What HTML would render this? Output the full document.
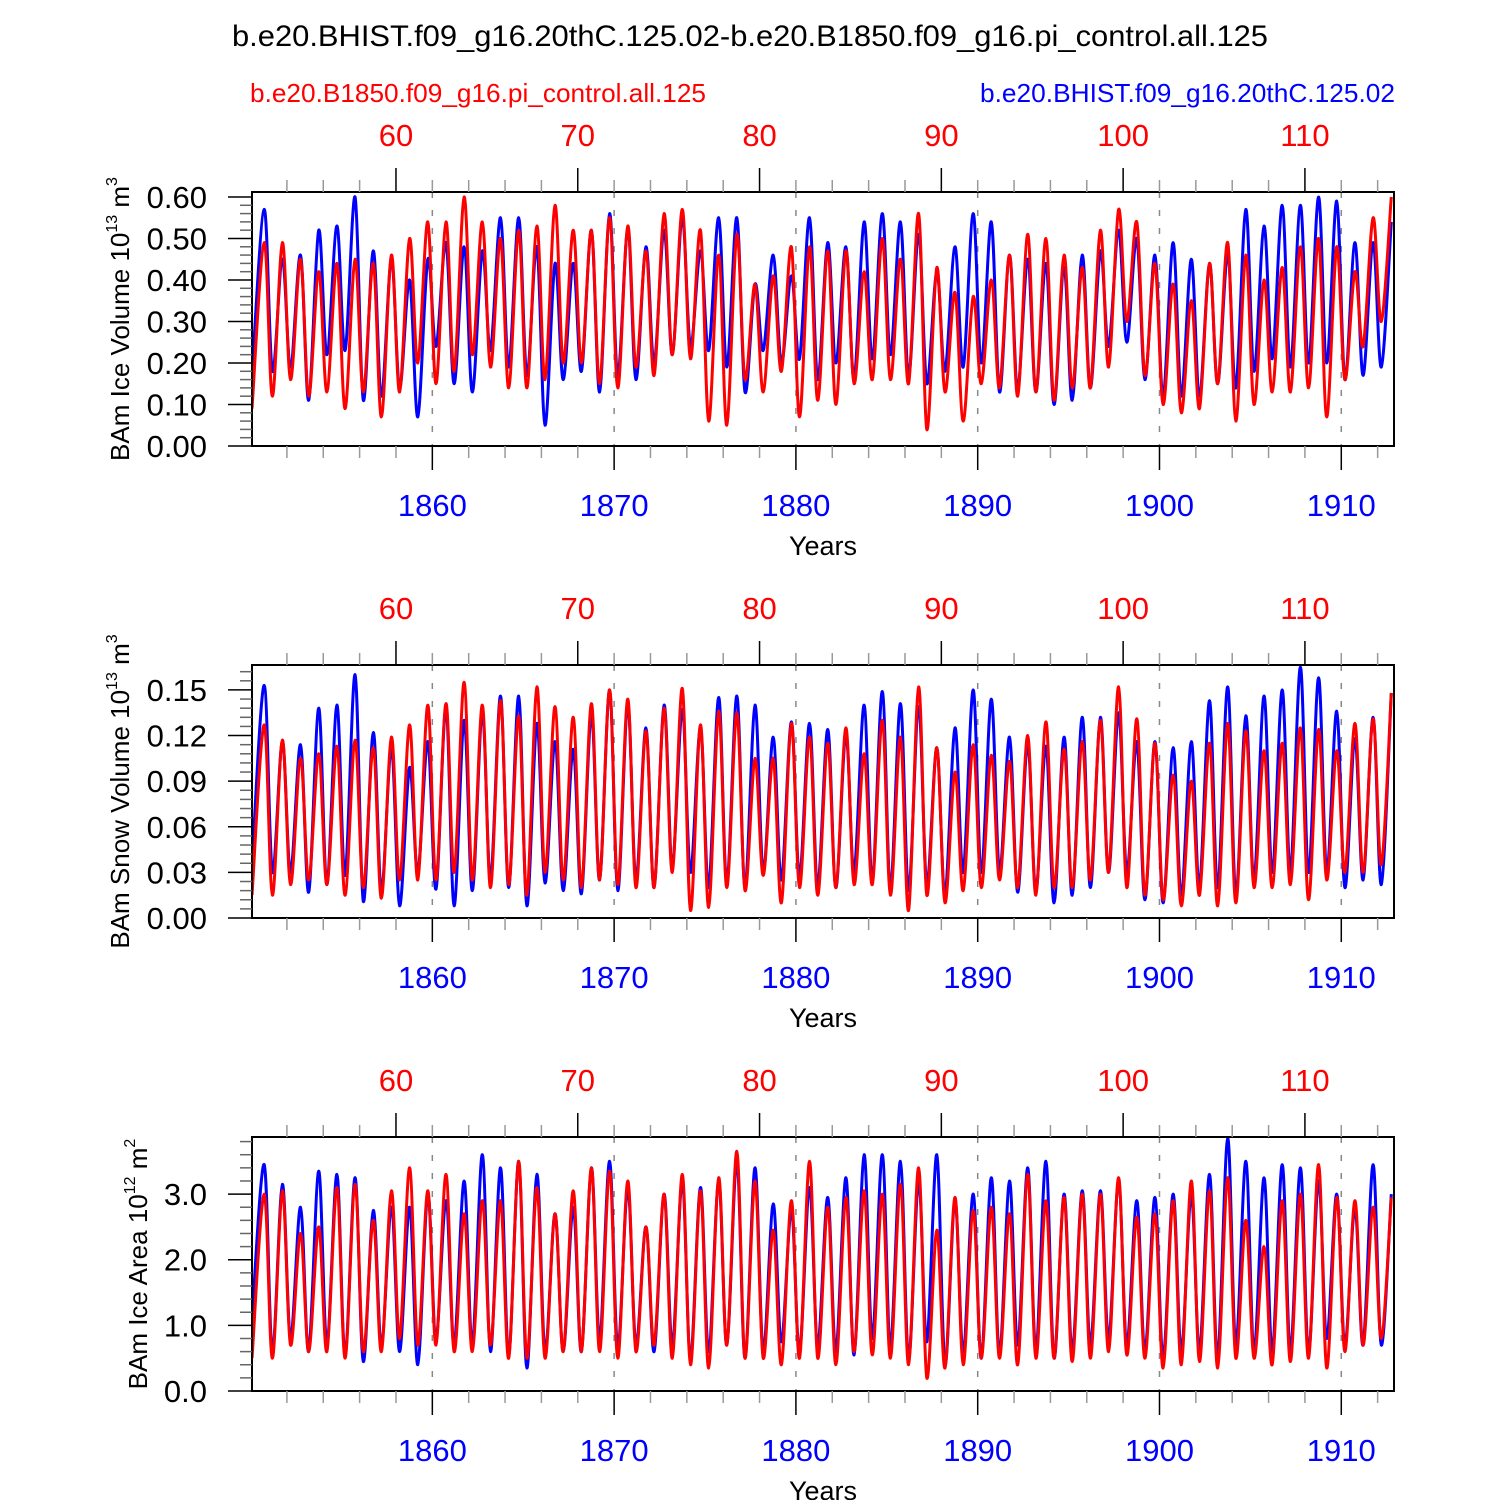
<!DOCTYPE html>
<html><head><meta charset="utf-8">
<style>
html,body{margin:0;padding:0;background:#fff;}
svg{display:block;font-family:"Liberation Sans",sans-serif;}
</style></head>
<body>
<svg id="chart" width="1500" height="1500" viewBox="0 0 1500 1500" xmlns="http://www.w3.org/2000/svg">
<rect width="1500" height="1500" fill="#fff"/>
<text x="750" y="46" font-size="30" text-anchor="middle" textLength="1036" lengthAdjust="spacingAndGlyphs">b.e20.BHIST.f09_g16.20thC.125.02-b.e20.B1850.f09_g16.pi_control.all.125</text>
<text x="250" y="102" font-size="26" fill="#ff0000" textLength="456" lengthAdjust="spacingAndGlyphs">b.e20.B1850.f09_g16.pi_control.all.125</text>
<text x="980" y="102" font-size="26" fill="#0000ff" textLength="415" lengthAdjust="spacingAndGlyphs">b.e20.BHIST.f09_g16.20thC.125.02</text>
</svg>
<script>
// Panel 1: ice volume (1e13 m^3)
const iceVolBluePeaks=[0.57,0.45,0.46,0.52,0.53,0.60,0.47,0.45,0.40,0.45,0.49,0.48,0.47,0.55,0.55,0.48,0.44,0.44,0.52,0.56,0.52,0.48,0.52,0.55,0.47,0.55,0.55,0.39,0.46,0.41,0.55,0.49,0.48,0.54,0.56,0.54,0.51,0.42,0.48,0.56,0.54,0.46,0.45,0.44,0.43,0.46,0.47,0.52,0.50,0.46,0.49,0.45,0.44,0.46,0.57,0.53,0.58,0.58,0.60,0.59,0.49,0.49,0.54];
const iceVolBlueTroughs=[0.18,0.19,0.11,0.22,0.23,0.11,0.12,0.14,0.07,0.24,0.15,0.13,0.23,0.19,0.17,0.05,0.16,0.18,0.13,0.17,0.16,0.20,0.22,0.24,0.23,0.19,0.13,0.23,0.20,0.21,0.16,0.20,0.16,0.21,0.22,0.17,0.15,0.18,0.19,0.20,0.13,0.14,0.13,0.10,0.11,0.14,0.24,0.25,0.16,0.12,0.12,0.12,0.15,0.14,0.18,0.21,0.19,0.20,0.20,0.16,0.17,0.19];
const iceVolRedPeaks=[0.49,0.49,0.45,0.42,0.44,0.45,0.44,0.46,0.50,0.54,0.54,0.60,0.54,0.50,0.52,0.53,0.58,0.52,0.52,0.55,0.53,0.47,0.56,0.57,0.52,0.46,0.51,0.39,0.41,0.48,0.48,0.47,0.47,0.42,0.50,0.45,0.56,0.43,0.37,0.36,0.40,0.46,0.51,0.50,0.46,0.43,0.52,0.57,0.54,0.44,0.39,0.35,0.44,0.49,0.46,0.40,0.43,0.48,0.50,0.48,0.42,0.55,0.60];
const iceVolRedTroughs=[0.12,0.16,0.12,0.13,0.09,0.13,0.07,0.13,0.20,0.15,0.18,0.22,0.19,0.14,0.14,0.16,0.20,0.20,0.15,0.14,0.19,0.17,0.22,0.21,0.06,0.05,0.16,0.13,0.18,0.07,0.11,0.10,0.15,0.16,0.16,0.15,0.04,0.13,0.06,0.15,0.14,0.12,0.13,0.11,0.14,0.14,0.19,0.30,0.17,0.10,0.08,0.09,0.15,0.06,0.10,0.13,0.13,0.14,0.07,0.16,0.24,0.30];
const iceVolStart=[0.17,0.09];
const iceVolTicks=["0.00","0.10","0.20","0.30","0.40","0.50","0.60"];
// Panel 2: snow volume
const snowBluePeaks=[0.153,0.116,0.114,0.138,0.140,0.160,0.122,0.112,0.099,0.116,0.138,0.130,0.135,0.146,0.146,0.128,0.116,0.111,0.134,0.150,0.140,0.125,0.140,0.137,0.125,0.145,0.146,0.140,0.119,0.129,0.128,0.124,0.121,0.140,0.149,0.141,0.139,0.112,0.125,0.150,0.144,0.119,0.115,0.113,0.119,0.132,0.132,0.135,0.116,0.116,0.112,0.116,0.143,0.152,0.133,0.146,0.150,0.165,0.158,0.136,0.118,0.132,0.148];
const snowBlueTroughs=[0.03,0.03,0.017,0.022,0.028,0.011,0.018,0.008,0.030,0.019,0.008,0.018,0.025,0.020,0.008,0.023,0.018,0.016,0.025,0.018,0.025,0.020,0.035,0.030,0.020,0.023,0.020,0.030,0.025,0.027,0.022,0.020,0.030,0.025,0.020,0.018,0.022,0.015,0.030,0.030,0.030,0.017,0.018,0.010,0.015,0.020,0.030,0.030,0.012,0.010,0.015,0.020,0.020,0.015,0.025,0.030,0.030,0.030,0.030,0.020,0.025,0.022];
const snowRedPeaks=[0.127,0.117,0.105,0.108,0.113,0.117,0.112,0.119,0.127,0.140,0.141,0.155,0.140,0.143,0.133,0.152,0.139,0.132,0.141,0.150,0.144,0.123,0.138,0.151,0.127,0.136,0.135,0.105,0.105,0.128,0.119,0.115,0.125,0.108,0.130,0.119,0.152,0.112,0.096,0.114,0.107,0.103,0.120,0.129,0.111,0.116,0.130,0.152,0.131,0.115,0.094,0.090,0.115,0.128,0.123,0.110,0.115,0.125,0.124,0.110,0.128,0.131,0.148];
const snowRedTroughs=[0.015,0.022,0.025,0.022,0.015,0.020,0.013,0.025,0.025,0.025,0.030,0.025,0.020,0.022,0.015,0.030,0.025,0.020,0.025,0.022,0.020,0.020,0.030,0.005,0.007,0.020,0.018,0.028,0.010,0.020,0.015,0.020,0.022,0.022,0.015,0.005,0.015,0.010,0.018,0.020,0.025,0.020,0.015,0.020,0.020,0.025,0.030,0.020,0.015,0.012,0.008,0.015,0.008,0.010,0.020,0.020,0.022,0.012,0.025,0.030,0.030,0.035];
const snowStart=[0.035,0.015];
const snowTicks=["0.00","0.03","0.06","0.09","0.12","0.15"];
// Panel 3: ice area (1e12 m^2)
const areaBluePeaks=[3.45,3.15,2.8,3.35,3.3,3.25,2.75,2.8,2.8,3.0,2.9,3.2,3.6,3.4,3.5,3.3,2.7,2.8,3.4,3.5,3.1,2.5,3.0,3.2,3.1,3.2,3.5,3.4,2.85,2.75,3.1,2.95,3.25,3.6,3.6,3.5,3.2,3.6,2.9,3.0,3.25,3.2,3.4,3.5,3.0,3.05,3.05,3.2,2.9,2.95,3.0,3.0,3.3,3.85,3.5,3.25,3.45,3.4,3.2,3.0,2.8,3.45,3.0];
const areaBlueTroughs=[0.6,0.8,0.6,0.7,0.55,0.45,0.7,0.6,0.4,0.8,0.7,0.7,0.6,0.55,0.35,0.6,0.6,0.6,0.8,0.65,0.7,0.6,0.7,0.5,0.6,0.7,0.5,0.6,0.75,0.6,0.7,0.6,0.55,0.8,0.7,0.5,0.75,0.4,0.6,0.5,0.55,0.7,0.65,0.5,0.6,0.7,0.8,0.7,0.6,0.5,0.6,0.6,0.5,0.7,0.6,0.6,0.6,0.6,0.8,0.7,0.7,0.7];
const areaRedPeaks=[3.0,3.05,2.4,2.5,3.1,3.15,2.6,3.05,3.4,3.05,3.3,2.7,2.9,2.9,3.5,3.1,2.7,3.05,3.4,3.35,3.2,2.5,3.0,3.3,3.05,3.25,3.65,3.2,2.45,2.9,3.5,2.8,2.95,3.05,3.0,3.15,3.4,2.45,2.95,2.75,2.8,2.7,3.3,2.9,2.95,3.0,3.0,3.25,2.65,2.7,2.9,3.2,3.05,3.25,2.6,2.2,2.9,3.0,3.45,2.95,2.9,2.8,2.95];
const areaRedTroughs=[0.5,0.7,0.6,0.6,0.5,0.6,0.6,0.8,0.7,0.7,0.6,0.6,0.7,0.5,0.5,0.5,0.6,0.6,0.6,0.5,0.6,0.7,0.5,0.4,0.35,0.7,0.5,0.5,0.4,0.5,0.5,0.4,0.6,0.55,0.5,0.4,0.2,0.35,0.4,0.5,0.5,0.4,0.5,0.5,0.45,0.5,0.6,0.55,0.5,0.35,0.4,0.45,0.35,0.5,0.5,0.4,0.45,0.5,0.35,0.6,0.7,0.8];
const areaStart=[1.1,0.5];
const areaTicks=["0.0","1.0","2.0","3.0"];
const bottomYearLabels=[1860,1870,1880,1890,1900,1910];
const topYearLabels=[60,70,80,90,100,110];
const TOP_OFFSET=1798;

const NS="http://www.w3.org/2000/svg";
const svg=document.getElementById('chart');
const X0=252,X1=1394,T0=1850.08,T1=1912.9;
function xs(t){return X0+(t-T0)/(T1-T0)*(X1-X0);}
function mk(tag,attrs,parent){const e=document.createElementNS(NS,tag);for(const k in attrs)e.setAttribute(k,attrs[k]);(parent||svg).appendChild(e);return e;}

function buildPts(start,peaks,troughs,ys){
  const pts=[[xs(T0),ys(start)]];
  for(let i=0;i<peaks.length;i++){
    pts.push([xs(1850+i+0.75),ys(peaks[i])]);
    if(i<troughs.length) pts.push([xs(1851+i+0.2),ys(troughs[i])]);
  }
  return pts;
}
function smoothPath(p){
  let d="M"+p[0][0].toFixed(1)+","+p[0][1].toFixed(1);
  for(let i=0;i<p.length-1;i++){
    const p0=p[i-1]||p[i],p1=p[i],p2=p[i+1],p3=p[i+2]||p2;
    const c1x=p1[0]+(p2[0]-p0[0])/6,c1y=p1[1]+(p2[1]-p0[1])/6;
    const c2x=p2[0]-(p3[0]-p1[0])/6,c2y=p2[1]-(p3[1]-p1[1])/6;
    d+="C"+c1x.toFixed(1)+","+c1y.toFixed(1)+" "+c2x.toFixed(1)+","+c2y.toFixed(1)+" "+p2[0].toFixed(1)+","+p2[1].toFixed(1);
  }
  return d;
}

function panel(cfg){
  const {id,top,bot,ymax,ticks,step,minor,ylab,sup,unit,usup,ylx,blue,red,start}=cfg;
  const ys=v=>bot-(v/ymax)*(bot-top);
  const g=mk('g',{});
  
  
  const cp=mk('clipPath',{id:id+'-clip'},g);
  mk('rect',{x:X0,y:top,width:X1-X0,height:bot-top},cp);
  bottomYearLabels.forEach(y=>{
    const l=mk('line',{x1:xs(y),x2:xs(y),y1:top,y2:bot,stroke:'#888','stroke-width':1.5,'stroke-dasharray':'6,12'},g);
    
    
  });
  const bp=mk('path',{d:smoothPath(buildPts(start[0],blue[0],blue[1],ys)),fill:'none',stroke:'#0000ff','stroke-width':3,'clip-path':'url(#'+id+'-clip)'},g);
  const rp=mk('path',{d:smoothPath(buildPts(start[1],red[0],red[1],ys)),fill:'none',stroke:'#ff0000','stroke-width':3,'clip-path':'url(#'+id+'-clip)'},g);
  
  
  
  
  const fr=mk('rect',{x:X0,y:top,width:X1-X0,height:bot-top,fill:'none',stroke:'#000','stroke-width':2},g);
  
  
  for(let v=0;v<=ymax+1e-9;v+=minor){
    const y=ys(v);const isMaj=Math.abs(v/step-Math.round(v/step))<1e-6;
    mk('line',{x1:isMaj?228:240,x2:X0,y1:y,y2:y,stroke:isMaj?'#000':'#666','stroke-width':1.5},g);
  }
  ticks.forEach((t,i)=>{
    const tx=mk('text',{x:207,y:ys(i*step)+11,'font-size':31,'text-anchor':'end'},g);
    tx.textContent=t;
    
    
  });
  for(let yr=1852;yr<=1912;yr+=2){
    const maj=yr%10===0;
    mk('line',{x1:xs(yr),x2:xs(yr),y1:bot,y2:bot+(maj?24:12),stroke:maj?'#000':'#999','stroke-width':1.5},g);
  }
  bottomYearLabels.forEach(yr=>{
    const tx=mk('text',{x:xs(yr),y:bot+70,'font-size':31,'text-anchor':'middle',fill:'#0000ff'},g);
    tx.textContent=yr;
    
    
  });
  for(let yr=52;yr<=114;yr+=2){
    const maj=yr%10===0;const x=xs(yr+TOP_OFFSET);
    if(x<X0||x>X1)continue;
    mk('line',{x1:x,x2:x,y1:top,y2:top-(maj?24:12),stroke:maj?'#000':'#999','stroke-width':1.5},g);
  }
  topYearLabels.forEach(yr=>{
    const tx=mk('text',{x:xs(yr+TOP_OFFSET),y:top-46,'font-size':31,'text-anchor':'middle',fill:'#ff0000'},g);
    tx.textContent=yr;
    
    
  });
  const xl=mk('text',{x:823,y:bot+109,'font-size':27,'text-anchor':'middle'},g);
  xl.textContent='Years';
  
  
  const cy=(top+bot)/2;
  const yl=mk('text',{x:ylx,y:cy,'font-size':26,'text-anchor':'middle',transform:'rotate(-90 '+ylx+' '+cy+')'},g);
  
  
  yl.innerHTML=ylab+' 10<tspan font-size="16" dy="-12">'+sup+'</tspan><tspan dy="12"> '+unit+'</tspan><tspan font-size="16" dy="-12">'+usup+'</tspan>';
}

panel({id:'ice-volume',top:192,bot:446,ymax:0.612,ticks:iceVolTicks,step:0.1,minor:0.02,ylab:'BAm Ice Volume',sup:'13',unit:'m',usup:'3',ylx:129,
  blue:[iceVolBluePeaks,iceVolBlueTroughs],red:[iceVolRedPeaks,iceVolRedTroughs],start:iceVolStart});
panel({id:'snow-volume',top:665,bot:918,ymax:0.1664,ticks:snowTicks,step:0.03,minor:0.006,ylab:'BAm Snow Volume',sup:'13',unit:'m',usup:'3',ylx:129,
  blue:[snowBluePeaks,snowBlueTroughs],red:[snowRedPeaks,snowRedTroughs],start:snowStart});
panel({id:'ice-area',top:1137,bot:1391,ymax:3.87,ticks:areaTicks,step:1,minor:0.2,ylab:'BAm Ice Area',sup:'12',unit:'m',usup:'2',ylx:147,
  blue:[areaBluePeaks,areaBlueTroughs],red:[areaRedPeaks,areaRedTroughs],start:areaStart});
</script>
</body></html>
